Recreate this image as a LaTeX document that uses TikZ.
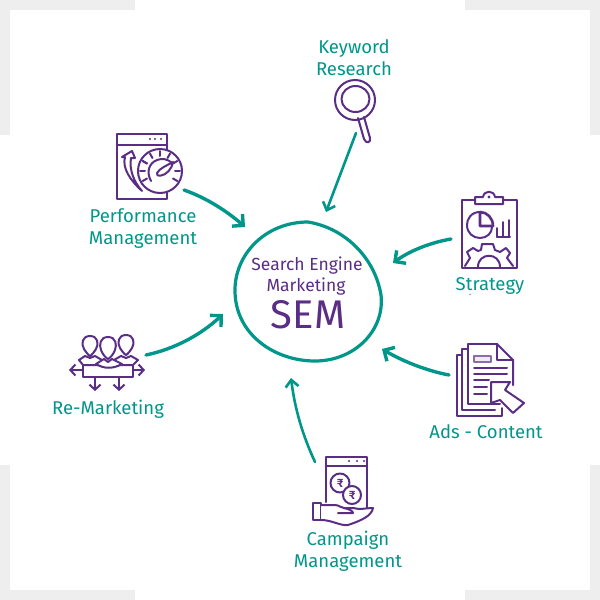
\documentclass[tikz,border=0pt]{standalone}
\usepackage{fontspec}
\setmainfont{Fira Sans}
\usetikzlibrary{arrows.meta}
\definecolor{teal1}{HTML}{00968A}
\definecolor{purp}{HTML}{5B2E86}
\definecolor{corner}{HTML}{EEEEEE}
\tikzset{
  lab/.style={text=teal1,font=\fontsize{18.5}{22}\selectfont,align=center,inner sep=0pt},
  centerlab/.style={text=purp,font=\fontsize{17.5}{21}\selectfont,align=center,inner sep=0pt},
  conn/.style={draw=teal1,line width=3.4pt,line cap=round,-{Straight Barb[length=8pt,width=16pt,line width=3.4pt]}},
  thinconn/.style={draw=teal1,line width=2.6pt,line cap=round,-{Straight Barb[length=7pt,width=13pt,line width=2.6pt]}},
  ico/.style={draw=purp,line width=2pt,line join=round,line cap=round},
  icob/.style={draw=purp,line width=2.6pt,line join=round,line cap=round},
  icot/.style={draw=purp!70,line width=1.2pt,line join=round,line cap=round},
  smallarrow/.style={ico,-{Straight Barb[length=5pt,width=11pt,line width=2pt]}},
  headshape/.style={ico,fill=white}
}
\begin{document}
\begin{tikzpicture}[x=1pt,y=-1pt]
\useasboundingbox (0,0) rectangle (600,600);
\fill[white] (0,0) rectangle (600,600);
% corner marks
\fill[corner] (0,0) rectangle (135,10);
\fill[corner] (0,0) rectangle (10,135);
\fill[corner] (465,0) rectangle (600,10);
\fill[corner] (590,0) rectangle (600,135);
\fill[corner] (0,465) rectangle (10,600);
\fill[corner] (0,590) rectangle (135,600);
\fill[corner] (590,465) rectangle (600,600);
\fill[corner] (465,590) rectangle (600,600);
% centre blob
\draw[teal1,line width=3.2pt,line cap=round] (308,222) .. controls (345,228) and (375,258) .. (381,295)
  .. controls (385,330) and (355,361) .. (315,361)
  .. controls (275,361) and (236,335) .. (235,292)
  .. controls (234,255) and (265,222) .. (308,222) -- cycle;
\node[centerlab] (c1) at (307,266) {Search Engine};
\node[centerlab] (c2) at (306,287) {Marketing};
\node[text=purp,font=\fontsize{40}{40}\selectfont,inner sep=0pt] (c3) at (308,315) {SEM};
% labels
\node[lab] (kw) at (354,58) {Keyword\\Research};
\node[lab] (pm) at (143,229) {Performance\\Management};
\node[lab] (st) at (490,286) {Strategy};
\node[lab] (ad) at (486,432) {Ads - Content};
\node[lab] (cm) at (348,551) {Campaign\\Management};
\node[lab] (rm) at (108,409) {Re-Marketing};
% magnifier
\draw[ico] (355,100) circle (20);
\draw[ico] (355.5,99) ellipse (14 and 13);
\draw[ico] (358,118) -- (364,139) .. controls (366,144) and (371,143) .. (370,138) -- (364,117);
% performance
\draw[icob] (117,134) rectangle (167,199);
\draw[icob] (117,145) -- (167,145);
\fill[purp] (150,139) circle (1.2) (155,139) circle (1.2) (161,139) circle (1.2);
\draw[ico] (142,191) .. controls (130,180) and (122,168) .. (125,157) (122,157) -- (132,151) -- (135,158) (125,157) -- (122,157) (135,158) -- (131,158) .. controls (129,170) and (134,182) .. (142,191);
\draw[ico,fill=white] (160,171) circle (22);
\draw[ico] (151,181) .. controls (146,172) and (149,163) .. (157,160) .. controls (162,158) and (168,159) .. (172,163);
\draw[ico] (157,173) .. controls (160,168) and (166,166) .. (173,162) .. controls (172,169) and (166,175) .. (161,175.5) .. controls (158,176) and (156,175) .. (157,173) -- cycle;
\foreach \a in {-150,-120,-90,-60,-30,0,30,150,180,210}
  \draw[ico] (160,171) ++(\a:15) -- ++(\a:5);
% clipboard
\draw[icob] (462,200) rectangle (517,268);
\draw[ico,fill=white] (475,204) -- (475,197) -- (483,197) .. controls (484,190) and (494,190) .. (495,197) -- (503,197) -- (503,204) -- cycle;
\fill[purp] (489,197) circle (1.6);
\draw[ico] (480,212) .. controls (471,212) and (467,219) .. (467,225) .. controls (467,233) and (473,238) .. (480,238) .. controls (487,238) and (492,233) .. (492,227);
\draw[icob] (480,212) -- (480,226) -- (493,226) .. controls (493,218) and (487,212) .. (480,212);
\draw[ico] (497,237) -- (510,237) (497,237) -- (497,228) (503,237) -- (503,222) (509,237) -- (509,220);
\draw[ico] (465,266) -- (470,258) -- (467,252) -- (473,248) -- (478,251) -- (481,250) -- (482,244) -- (493,244) -- (495,250) -- (500,252) -- (506,248) -- (510,253) -- (507,258) -- (513,266);
\draw[ico] (478,267) .. controls (478,252) and (500,252) .. (500,267);
% ads
\draw[ico] (462,355) -- (457,355) -- (457,416) -- (502,416) -- (502,408);
\draw[ico] (468,349) -- (462,349) -- (462,410) -- (495,410);
\draw[ico] (497,344) -- (468,344) -- (468,404) -- (500,404);
\draw[ico] (497,344) -- (513,360) -- (513,385);
\draw[ico] (497,344) -- (497,360) -- (513,360);
\draw[icot,fill=purp!10] (474,356) rectangle (491,362);
\draw[ico] (474,368) -- (507,368) (474,374) -- (507,374) (474,380) -- (489,380) (474,387) -- (487,387) (474,394) -- (487,394);
\draw[ico,fill=white] (491,382) -- (510,382) -- (505,390) -- (524,403) -- (513,413) -- (500,400) -- (491,403) -- cycle;
% campaign
\draw[ico] (326,502) -- (326,457) -- (367,457) -- (367,508);
\draw[icob] (326,466) -- (367,466);
\fill[purp] (349,461) circle (1.2) (357,461) circle (1.2) (364,461) circle (1.2);
\draw[ico,fill=white] (340,483) circle (9.5);
\draw[ico,fill=white] (352,495) circle (9);
\node[text=purp,font=\fontsize{12}{12}\selectfont\bfseries,inner sep=0pt] (r1) at (340,483) {₹};
\node[text=purp,font=\fontsize{12}{12}\selectfont\bfseries,inner sep=0pt] (r2) at (352,495) {₹};
\draw[ico] (313,503) rectangle (321,520);
\draw[ico,fill=white] (321,505) -- (335,505) .. controls (339,505) and (341,508) .. (344,508) -- (353,508) .. controls (360,510) and (366,508) .. (373,508) .. controls (372,516) and (360,521) .. (348,525) .. controls (340,526) and (332,520) .. (321,520);
\draw[ico] (344,508) .. controls (349,509) and (353,511) .. (353,513) -- (338,513);
% remarketing
\draw[smallarrow] (83,370) -- (69,370);
\draw[smallarrow] (133,370) -- (145,370);
\draw[smallarrow] (95,377) -- (95,391);
\draw[smallarrow] (119,377) -- (119,391);
\draw[ico] (83,365) rectangle (133,377);
\draw[ico,fill=white] (79,360) -- (85,356) -- (90,358) -- (95,356) -- (102,360) -- (102,365) -- (83,365) -- cycle;
\draw[ico,fill=white] (114,360) -- (121,356) -- (126,358) -- (131,356) -- (138,360) -- (133,365) -- (114,365) -- cycle;
\draw[headshape] (90,336) .. controls (82,336) and (81,344) .. (84,349) .. controls (86,352) and (88,355) .. (90,356) .. controls (92,355) and (94,352) .. (96,349) .. controls (99,344) and (98,336) .. (90,336) -- cycle;
\draw[headshape] (126,335) .. controls (118,335) and (117,343) .. (120,348) .. controls (122,351) and (124,354) .. (126,355) .. controls (128,354) and (130,351) .. (132,348) .. controls (135,343) and (134,335) .. (126,335) -- cycle;
\draw[ico,fill=white] (96,364) -- (104,359) -- (108,362) -- (112,359) -- (122,364) .. controls (113,369) and (104,369) .. (96,364) -- cycle;
\draw[headshape] (108,337) .. controls (100,337) and (99,345) .. (101,350) .. controls (103,355) and (106,358) .. (108,359) .. controls (110,358) and (113,355) .. (115,350) .. controls (117,345) and (116,337) .. (108,337) -- cycle;
% connectors
\coordinate (a1s) at (356,133);
\coordinate (a2s) at (184,190);
\coordinate (a3s) at (451,239);
\coordinate (a4s) at (449,375);
\coordinate (a5s) at (315,462);
\coordinate (a6s) at (146,355);
\coordinate (a1e) at (326,212);
\coordinate (a2e) at (245,227);
\coordinate (a3e) at (393,263);
\coordinate (a4e) at (382,349);
\coordinate (a5e) at (291,378);
\coordinate (a6e) at (223,314);
\draw[thinconn] (a1s) -- (a1e);
\draw[conn] (a2s) .. controls (207,198) and (228,212) .. (a2e);
\draw[conn] (a3s) .. controls (428,243) and (408,252) .. (a3e);
\draw[conn] (a4s) .. controls (428,371) and (404,362) .. (a4e);
\draw[thinconn] (a5s) .. controls (303,436) and (295,410) .. (a5e);
\draw[conn] (a6s) .. controls (175,349) and (202,334) .. (a6e);
\fill[purp] (470,294.5) circle (0.7);
\end{tikzpicture}
\end{document}
